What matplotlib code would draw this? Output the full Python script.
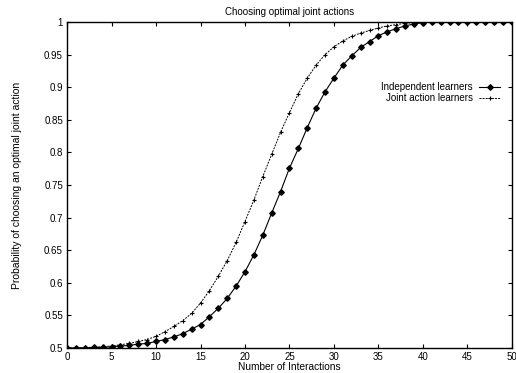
import matplotlib
matplotlib.use("Agg")
import matplotlib.pyplot as plt
from matplotlib.ticker import FormatStrFormatter

plt.rcParams['font.family'] = ['Liberation Sans', 'DejaVu Sans']

interactions = list(range(0, 51))

independent = [0.500, 0.500, 0.500, 0.501, 0.501, 0.502, 0.503, 0.504, 0.506, 0.507,
               0.510, 0.513, 0.517, 0.522, 0.529, 0.536, 0.548, 0.561, 0.576, 0.595,
               0.617, 0.643, 0.673, 0.707, 0.740, 0.776, 0.806, 0.838, 0.868, 0.893,
               0.914, 0.934, 0.948, 0.961, 0.970, 0.979, 0.985, 0.990, 0.994, 0.997,
               0.999, 1.000, 1.000, 1.000, 1.000, 1.000, 1.000, 1.000, 1.000, 1.000,
               1.000]

joint = [0.500, 0.500, 0.501, 0.501, 0.502, 0.503, 0.505, 0.507, 0.510, 0.513,
         0.518, 0.525, 0.533, 0.542, 0.553, 0.569, 0.588, 0.610, 0.634, 0.662,
         0.694, 0.727, 0.763, 0.797, 0.831, 0.861, 0.890, 0.914, 0.934, 0.950,
         0.962, 0.971, 0.978, 0.983, 0.987, 0.991, 0.994, 0.996, 0.998, 0.999,
         1.000, 1.000, 1.000, 1.000, 1.000, 1.000, 1.000, 1.000, 1.000, 1.000,
         1.000]

fig = plt.figure(figsize=(5.16, 3.73), dpi=100)
ax = fig.add_axes([0.130, 0.067, 0.862, 0.874])

ax.plot(interactions, independent, color='black', lw=0.8, marker='D',
        markersize=2.8, label='Independent learners')
ax.plot(interactions, joint, color='black', lw=0.7, ls=(0, (2, 1.2)), marker='+',
        markersize=3.5, markeredgewidth=0.8, label='Joint action learners')

ax.set_xlim(0, 50)
ax.set_ylim(0.5, 1.0)
ax.set_xticks(range(0, 51, 5))
ax.set_yticks([0.5, 0.55, 0.6, 0.65, 0.7, 0.75, 0.8, 0.85, 0.9, 0.95, 1.0])
ax.yaxis.set_major_formatter(FormatStrFormatter('%g'))
ax.tick_params(direction='in', top=True, right=True, labelsize=7, length=3, pad=3)
for s in ax.spines.values():
    s.set_linewidth(1.0)

ax.set_title('Choosing optimal joint actions', fontsize=7, pad=5)
ax.set_xlabel('Number of Interactions', fontsize=7.3, labelpad=0)
ax.set_ylabel('Probability of choosing an optimal joint action', fontsize=7.5, labelpad=16)

ax.legend(loc='upper right', bbox_to_anchor=(0.985, 0.83), frameon=False,
          markerfirst=False, fontsize=7, handlelength=2.2, handletextpad=0.6,
          labelspacing=0.1, borderpad=0)

fig.savefig('out.png', dpi=100)
